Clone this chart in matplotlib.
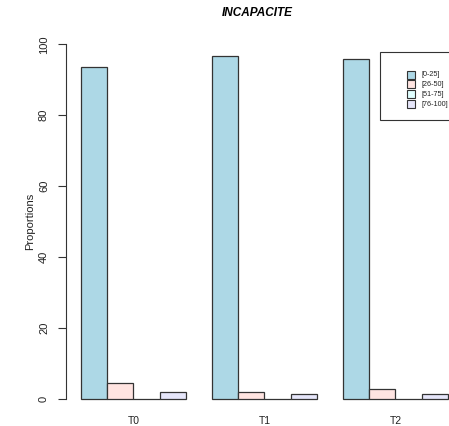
import matplotlib
matplotlib.use("Agg")
import matplotlib.pyplot as plt
from matplotlib.patches import Rectangle

plt.rcParams['font.family'] = ['Liberation Sans', 'DejaVu Sans']

groups = ["T0", "T1", "T2"]
classes = ["[0-25]", "[26-50]", "[51-75]", "[76-100]"]
values = {
    "[0-25]":   [93.6, 96.6, 95.8],
    "[26-50]":  [4.4, 2.0, 2.8],
    "[51-75]":  [0.0, 0.0, 0.0],
    "[76-100]": [2.0, 1.4, 1.4],
}
colors = ["#ADD8E6", "#FFE4E1", "#E0FFFF", "#E6E6FA"]
title = "INCAPACITE"
ylabel = "Proportions"

W, H = 449, 426
fig = plt.figure(figsize=(W / 100, H / 100), dpi=100)
ax = fig.add_axes([66.3 / W, 1 - 413.2 / H, (462.5 - 66.3) / W, (413.2 - 30.1) / H])


def fx(px):
    return px / W


def fy(py):
    return 1 - py / H


n_cls = len(classes)
group_step = n_cls + 1
for j, cls in enumerate(classes):
    xs = [1 + g * group_step + j for g in range(len(groups))]
    ax.bar(xs, values[cls], width=1.0, align="edge", color=colors[j],
           edgecolor="#333333", linewidth=0.9)

centers = [1 + g * group_step + n_cls / 2 for g in range(len(groups))]
ax.set_xticks(centers)
ax.set_xticklabels(groups, fontsize=7.5)
ax.tick_params(axis="x", length=0, pad=2, colors="#222222")

ax.set_xlim(0.44, 15.56)
ax.set_ylim(-4, 104)
ax.set_yticks([0, 20, 40, 60, 80, 100])
ax.set_yticklabels(["0", "20", "40", "60", "80", "100"], rotation=90,
                   va="center", fontsize=8)
ax.tick_params(axis="y", length=5.5, width=0.8, pad=7, colors="#333333",
               labelcolor="#222222")
for s in ["top", "right", "bottom"]:
    ax.spines[s].set_visible(False)
ax.spines["left"].set_bounds(0, 100)
ax.spines["left"].set_color("#333333")
ax.spines["left"].set_linewidth(0.8)
ax.set_ylabel(ylabel, fontsize=8, labelpad=3, color="#222222")

fig.text(fx(257), fy(13), title, ha="center", va="center",
         fontsize=8.5, fontweight="bold", fontstyle="italic")

# legend box with square keys
fig.patches.append(Rectangle((fx(380), fy(119.5)), fx(95), fy(52) - fy(119.5),
                             transform=fig.transFigure, facecolor="white",
                             edgecolor="#333333", linewidth=0.8, zorder=5))
for j, cls in enumerate(classes):
    yc = 74.5 + j * 9.9
    fig.patches.append(Rectangle((fx(407), fy(yc + 4)), fx(8), fy(yc - 4) - fy(yc + 4),
                                 transform=fig.transFigure, facecolor=colors[j],
                                 edgecolor="#333333", linewidth=0.8, zorder=6))
    fig.text(fx(421.5), fy(yc), cls, ha="left", va="center", fontsize=5.2,
             color="#222222", zorder=7)

fig.savefig("out.png", dpi=100)
